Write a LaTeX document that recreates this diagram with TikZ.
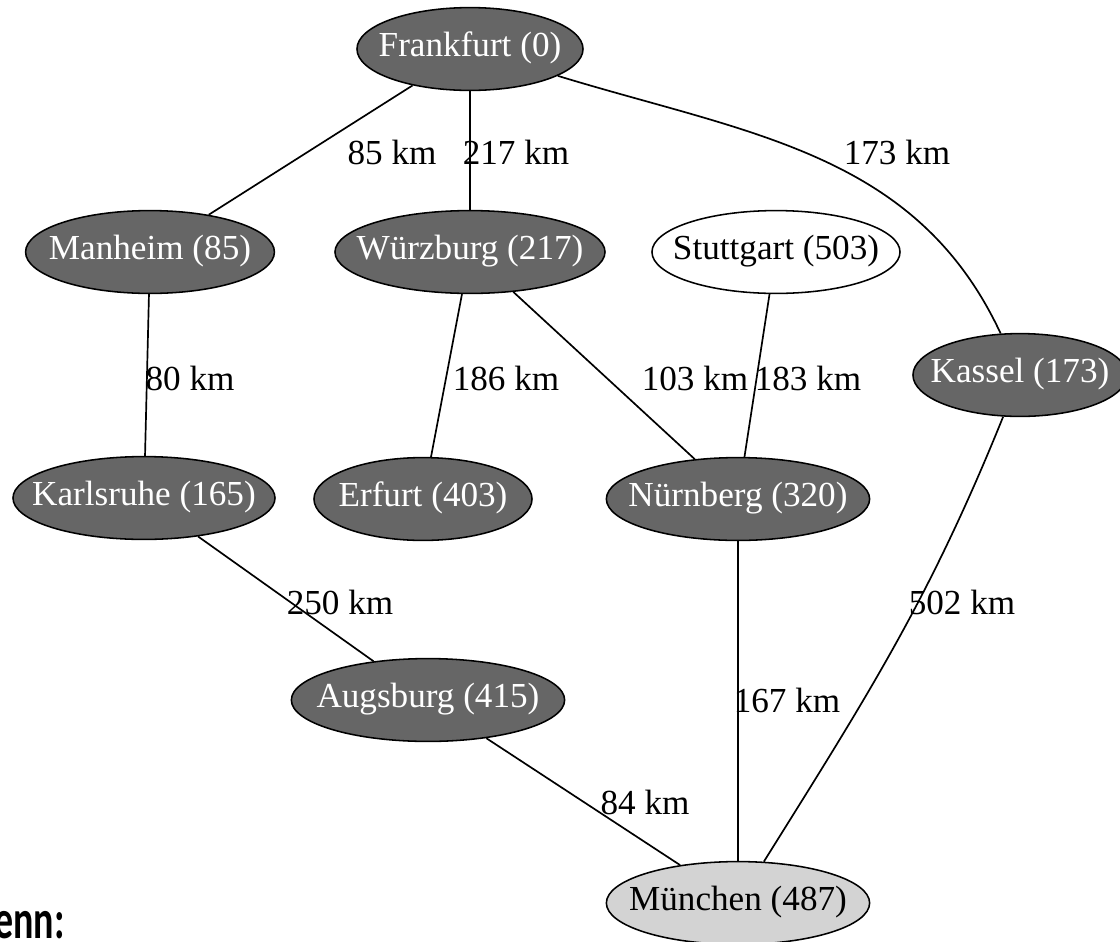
\documentclass[tikz,border=0pt]{standalone}
\usepackage{fontspec}
\setmainfont{Liberation Serif}
\newfontfamily\slidefont{Carlito}
\usetikzlibrary{shapes.geometric}

\definecolor{citygray}{HTML}{666666}
\definecolor{goalgray}{HTML}{D3D3D3}

\tikzset{
  city/.style={ellipse, draw, line width=1.1pt, fill=citygray, text=white,
    minimum height=2.07cm, minimum width=#1, inner xsep=-1cm,
    text height=1.08em, text depth=0em},
  open/.style={fill=white, text=black},
  goal/.style={fill=goalgray, text=black},
  road/.style={line width=1.2pt},
  dist/.style={text=black, inner sep=1pt}
}

\begin{document}
\begin{tikzpicture}[x=0.025cm, y=-0.025cm, font=\fontsize{25}{30}\selectfont]
      \useasboundingbox (0,0) rectangle (1120,942);

      \node[city=5.65cm] (fra) at (470,49) {Frankfurt (0)};
      \node[city=6.22cm] (man) at (150,252) {Manheim (85)};
      \node[city=6.75cm] (wue) at (470,252) {Würzburg (217)};
      \node[city=6.2cm,open] (stu) at (776,252) {Stuttgart (503)};
      \node[city=5.35cm] (kas) at (1020,375) {Kassel (173)};
      \node[city=6.55cm] (kar) at (144,498) {Karlsruhe (165)};
      \node[city=5.45cm] (erf) at (423,499) {Erfurt (403)};
      \node[city=6.58cm] (nue) at (738,499) {Nürnberg (320)};
      \node[city=6.83cm] (aug) at (428,700) {Augsburg (415)};
      \node[city=6.58cm,goal] (mue) at (738,903) {München (487)};

      \draw[road] (fra) -- (man);
      \draw[road] (fra) -- (wue);
      \draw[road] (fra) to[out=-17,in=115] (kas);
      \draw[road] (man) -- (kar);
      \draw[road] (wue) -- (erf);
      \draw[road] (wue) -- (nue);
      \draw[road] (stu) -- (nue);
      \draw[road] (kas) to[out=-112,in=58] (mue);
      \draw[road] (kar) -- (aug);
      \draw[road] (nue) -- (mue);
      \draw[road] (aug) -- (mue);

      \node[dist] (d1) at (392,152) {85 km};
      \node[dist] (d2) at (516,152) {217 km};
      \node[dist] (d3) at (897,152) {173 km};
      \node[dist] (d4) at (190,378) {80 km};
      \node[dist] (d5) at (506,378) {186 km};
      \node[dist] (d6) at (695,378) {103 km};
      \node[dist] (d7) at (808,378) {183 km};
      \node[dist] (d8) at (340,602) {250 km};
      \node[dist] (d9) at (962,602) {502 km};
      \node[dist] (d10) at (787,700) {167 km};
      \node[dist] (d11) at (645,802) {84 km};

      \node[anchor=base west, inner sep=0pt, font=\slidefont\bfseries\fontsize{27}{30}\selectfont]
        (enn) at (-6,938) {\scalebox{1}[1.45]{enn:}};
    \end{tikzpicture}
\end{document}
